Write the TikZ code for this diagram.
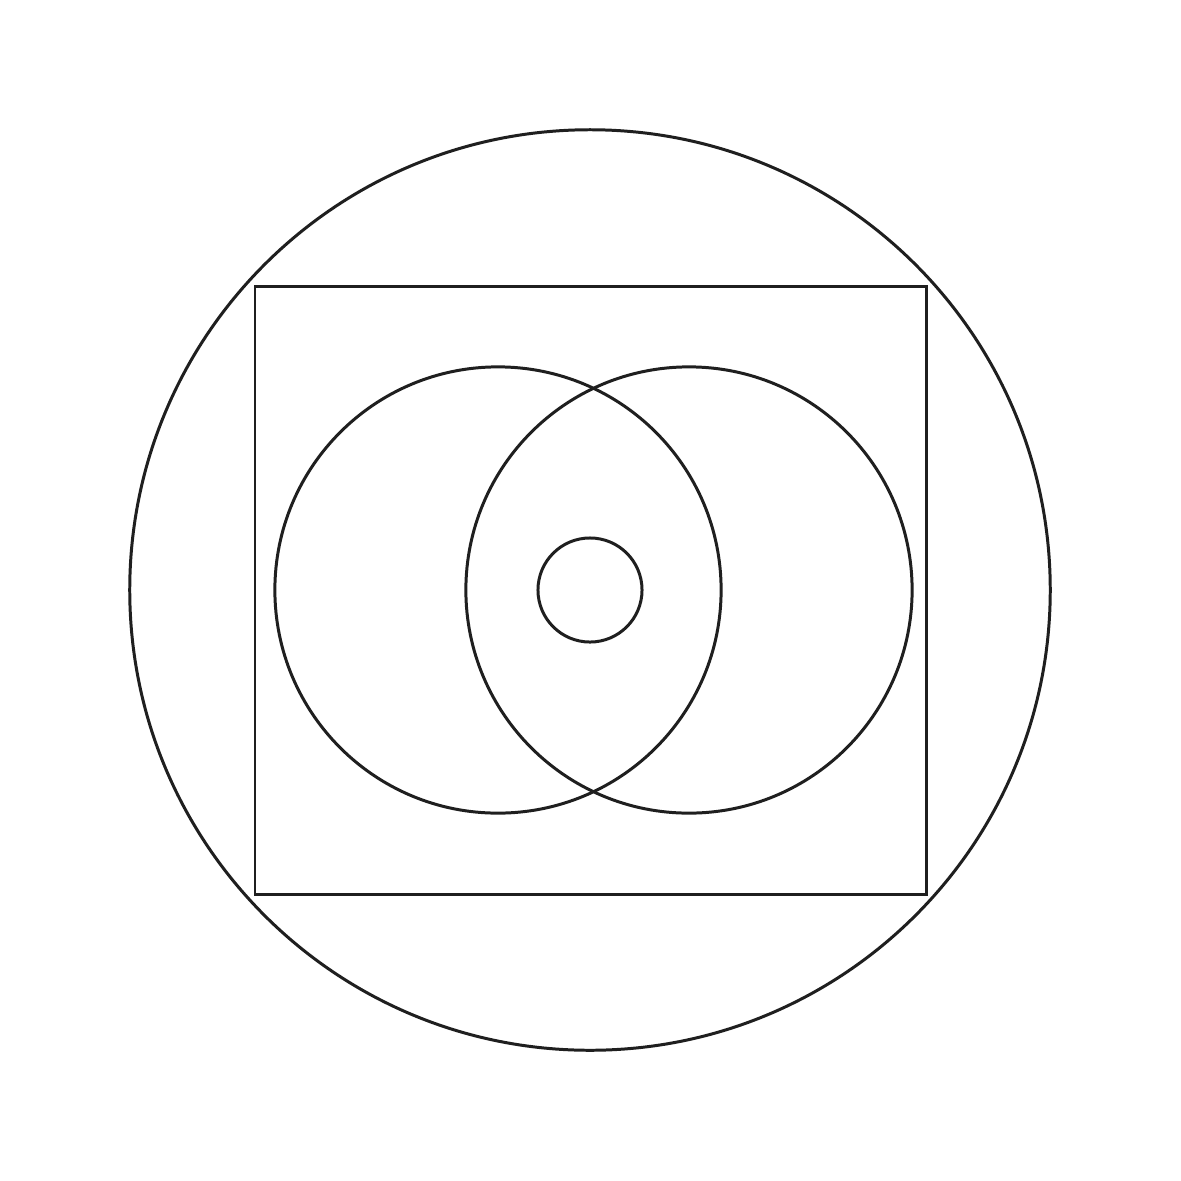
\documentclass[tikz,border=0pt]{standalone}
\begin{document}
\begin{tikzpicture}[x=0.01cm,y=-0.01cm,
  outline/.style={draw=black!88,line width=0.85pt}]
\useasboundingbox (0,0) rectangle (1181,1181);
\fill[white] (0,0) rectangle (1181,1181);
\draw[outline] (590,590) circle[radius=4.6cm];
\draw[outline] (255,286) rectangle (926,894);
\draw[outline] (498,590) circle[radius=2.23cm];
\draw[outline] (689,590) circle[radius=2.23cm];
\draw[outline] (590,590) circle[radius=0.52cm];
\end{tikzpicture}
\end{document}
